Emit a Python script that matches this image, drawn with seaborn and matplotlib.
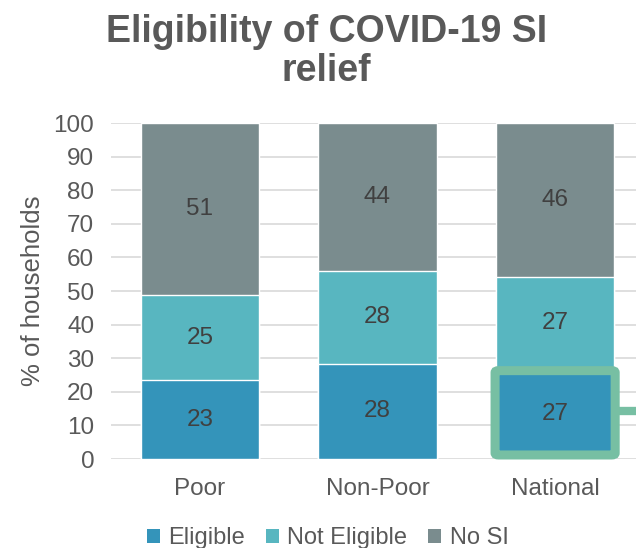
import numpy as np
import matplotlib.pyplot as plt
import seaborn as sns
import pandas as pd
from matplotlib.patches import FancyBboxPatch
from matplotlib.patches import Patch

groups = ["Poor", "Non-Poor", "National"]
eligible = [23.4, 28.4, 26.8]
not_eligible = [25.4, 27.6, 27.4]
no_si = [51.2, 44.0, 45.8]
series_names = ["Eligible", "Not Eligible", "No SI"]
colors = ["#3494BA", "#58B6C0", "#7A8C8E"]

sns.set_style("white")
plt.rcParams['font.family'] = ['Liberation Sans', 'DejaVu Sans']

fig = plt.figure(figsize=(6.36, 5.48), dpi=100)
ax = fig.add_axes([0.1745, 0.1624, 0.838, 0.6131])

layers = [eligible, not_eligible, no_si]
cum = np.cumsum(np.array(layers), axis=0)

# draw from top layer down so each cumulative bar shows its own segment
for i in range(len(layers) - 1, -1, -1):
    df = pd.DataFrame({"group": groups, "value": cum[i]})
    sns.barplot(data=df, x="group", y="value", color=colors[i], width=0.665,
                saturation=1, ax=ax, zorder=2)

# segment labels
for i, vals in enumerate(layers):
    bottoms = cum[i] - np.array(vals)
    for j, v in enumerate(vals):
        ax.text(j, bottoms[j] + v / 2, f"{v:.0f}", ha="center", va="center",
                fontsize=17.5, color="#404040", zorder=4)

ax.set_ylim(0, 100)
ax.set_xlim(-0.5, 2.5)
ax.set_yticks(range(0, 101, 10))
ax.yaxis.grid(True, color="#D9D9D9", linewidth=1.2, zorder=0)
ax.set_axisbelow(True)
for s in ax.spines.values():
    s.set_visible(False)
ax.tick_params(axis="both", length=0, labelsize=17.5, labelcolor="#595959")
ax.tick_params(axis="y", pad=12)
ax.tick_params(axis="x", pad=14)
ax.set_xlabel("")
ax.set_ylabel("% of households", fontsize=18.5, color="#595959", labelpad=6)

# highlight box on National eligible segment
hl = FancyBboxPatch((2 - 0.338, 1.2), 0.676, 25.1,
                    boxstyle="round,pad=0,rounding_size=0.02",
                    fill=False, edgecolor="#77BFA3", linewidth=6.5,
                    zorder=5, clip_on=False, mutation_aspect=30)
ax.add_patch(hl)
ax.plot([2.34, 2.6], [14.3, 14.3], color="#77BFA3", linewidth=6,
        solid_capstyle="butt", clip_on=False, zorder=5)

fig.text(0.513, 0.906, "Eligibility of COVID-19 SI\nrelief", ha="center",
         va="center", fontsize=27, fontweight="bold", color="#595959",
         linespacing=1.12)

handles = [Patch(facecolor=c, edgecolor="none") for c in colors]
fig.legend(handles, series_names, loc="center", bbox_to_anchor=(0.515, 0.018),
           ncol=3, frameon=False, fontsize=17, handlelength=0.55,
           handleheight=0.55, handletextpad=0.35, columnspacing=0.9,
           labelcolor="#595959")

fig.savefig("out.png", dpi=100)
